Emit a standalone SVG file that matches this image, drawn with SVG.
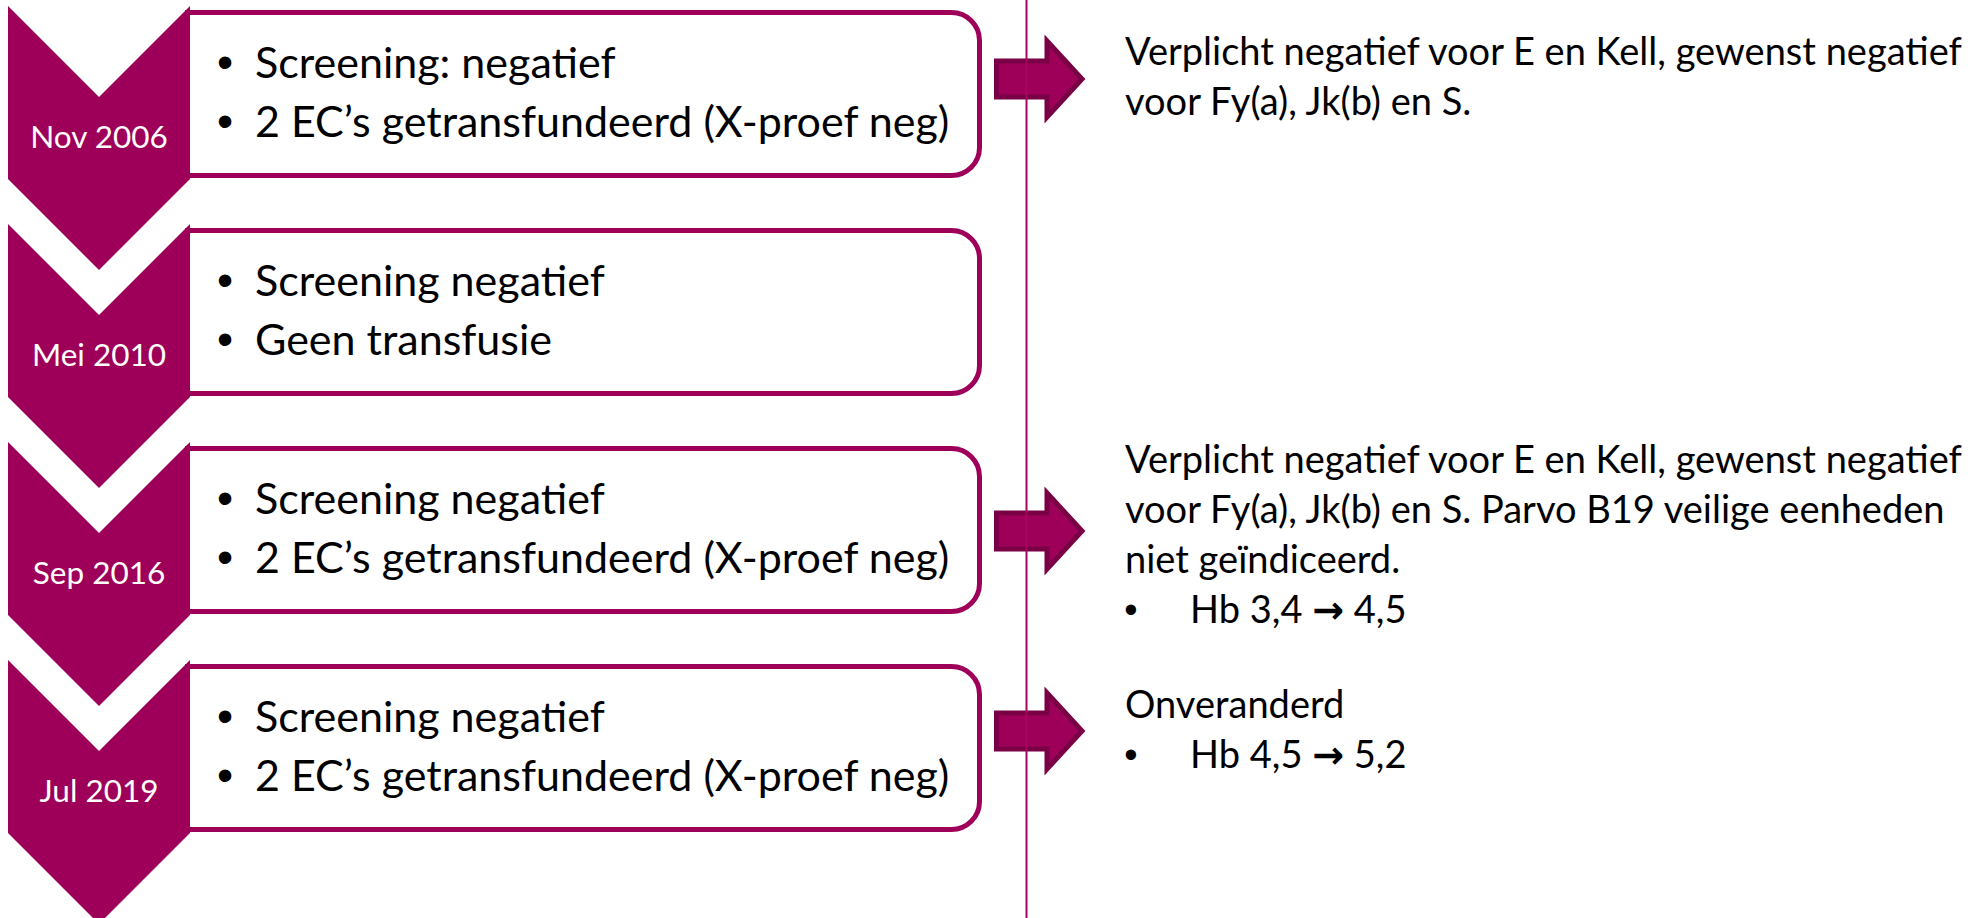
<svg xmlns="http://www.w3.org/2000/svg" width="1977" height="918" viewBox="0 0 1977 918">
<style>
.chev{fill:#9E0059}
.box{fill:#FFFFFF;stroke:#9E0059;stroke-width:5}
.date{font-family:Lato,"Liberation Sans",sans-serif;font-size:31.5px;fill:#FFFFFF;text-anchor:middle}
.bt{font-family:Lato,"Liberation Sans",sans-serif;font-size:43px;fill:#000000}
.bul{font-family:"Liberation Sans",Arial,sans-serif;font-size:46px;fill:#000000;text-anchor:middle}
.rt{font-family:Lato,"Liberation Sans",sans-serif;font-size:38px;fill:#000000}
.rbul{font-family:"Liberation Sans",Arial,sans-serif;font-size:38px;fill:#000000;text-anchor:middle}
.arr{font-family:"DejaVu Sans",sans-serif;font-weight:bold}
.arrow{fill:#9E0059;stroke:#7A0046;stroke-width:5;stroke-linejoin:miter}
.vline{stroke:#A8045F;stroke-width:2}
</style>
<rect width="1977" height="918" fill="#FFFFFF"/>
<g id="step1">
  <path class="box" d="M187.5,12.5 H951.5 A28,28 0 0 1 979.5,40.5 V147.5 A28,28 0 0 1 951.5,175.5 H187.5 Z"/>
  <path class="chev" d="M8,6 L99,97 L190,6 L190,179 L99,270 L8,179 Z"/>
  <text class="date" x="99" y="148">Nov 2006</text>
  <text class="bul" x="225" y="78">•</text>
  <text class="bt" x="255" y="78">Screening: negatief</text>
  <text class="bul" x="225" y="137">•</text>
  <text class="bt" x="255" y="137">2 EC’s getransfundeerd (X-proef neg)</text>
</g>
<g id="step2">
  <path class="box" d="M187.5,230.5 H951.5 A28,28 0 0 1 979.5,258.5 V365.5 A28,28 0 0 1 951.5,393.5 H187.5 Z"/>
  <path class="chev" d="M8,224 L99,315 L190,224 L190,397 L99,488 L8,397 Z"/>
  <text class="date" x="99" y="366">Mei 2010</text>
  <text class="bul" x="225" y="296">•</text>
  <text class="bt" x="255" y="296">Screening negatief</text>
  <text class="bul" x="225" y="355">•</text>
  <text class="bt" x="255" y="355">Geen transfusie</text>
</g>
<g id="step3">
  <path class="box" d="M187.5,448.5 H951.5 A28,28 0 0 1 979.5,476.5 V583.5 A28,28 0 0 1 951.5,611.5 H187.5 Z"/>
  <path class="chev" d="M8,442 L99,533 L190,442 L190,615 L99,706 L8,615 Z"/>
  <text class="date" x="99" y="584">Sep 2016</text>
  <text class="bul" x="225" y="514">•</text>
  <text class="bt" x="255" y="514">Screening negatief</text>
  <text class="bul" x="225" y="573">•</text>
  <text class="bt" x="255" y="573">2 EC’s getransfundeerd (X-proef neg)</text>
</g>
<g id="step4">
  <path class="box" d="M187.5,666.5 H951.5 A28,28 0 0 1 979.5,694.5 V801.5 A28,28 0 0 1 951.5,829.5 H187.5 Z"/>
  <path class="chev" d="M8,660 L99,751 L190,660 L190,833 L99,924 L8,833 Z"/>
  <text class="date" x="99" y="802">Jul 2019</text>
  <text class="bul" x="225" y="732">•</text>
  <text class="bt" x="255" y="732">Screening negatief</text>
  <text class="bul" x="225" y="791">•</text>
  <text class="bt" x="255" y="791">2 EC’s getransfundeerd (X-proef neg)</text>
</g>
<g id="connectors">
  <path class="arrow" d="M996.5,61 H1047 V41 L1082,79 L1047,117 V97 H996.5 Z"/>
  <path class="arrow" d="M996.5,513 H1047 V493 L1082,531 L1047,569 V549 H996.5 Z"/>
  <path class="arrow" d="M996.5,713 H1047 V693 L1082,731 L1047,769 V749 H996.5 Z"/>
  <line class="vline" x1="1026.5" y1="0" x2="1026.5" y2="918"/>
</g>
<g id="note1">
  <text class="rt" x="1125" y="65">Verplicht negatief voor E en Kell, gewenst negatief</text>
  <text class="rt" x="1125" y="115">voor Fy(a), Jk(b) en S.</text>
</g>
<g id="note3">
  <text class="rt" x="1125" y="473">Verplicht negatief voor E en Kell, gewenst negatief</text>
  <text class="rt" x="1125" y="523">voor Fy(a), Jk(b) en S. Parvo B19 veilige eenheden</text>
  <text class="rt" x="1125" y="573">niet geïndiceerd.</text>
  <text class="rbul" x="1131" y="623">•</text>
  <text class="rt" x="1190" y="623">Hb 3,4 <tspan class="arr">→</tspan> 4,5</text>
</g>
<g id="note4">
  <text class="rt" x="1125" y="718">Onveranderd</text>
  <text class="rbul" x="1131" y="768">•</text>
  <text class="rt" x="1190" y="768">Hb 4,5 <tspan class="arr">→</tspan> 5,2</text>
</g>
</svg>
